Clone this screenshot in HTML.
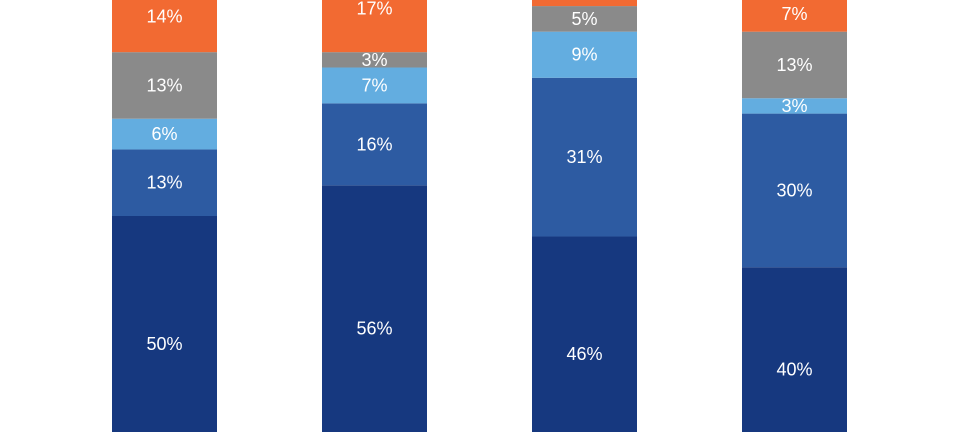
<!DOCTYPE html>
<html><head><meta charset="utf-8"><style>
html,body{margin:0;padding:0;background:#fff;overflow:hidden;width:960px;height:432px}
svg{display:block;overflow:hidden}
svg text{font-family:"Liberation Sans",sans-serif;font-size:18px;fill:#fff;text-anchor:middle;dominant-baseline:central}
</style></head><body>
<svg id="chart" width="960" height="432"></svg>
<script>
const categories = ["A","B","C","D"];
const seriesNames = ["s1","s2","s3","s4","s5"];
const s1 = [50,56,46,40];
const s2 = [13,16,31,30];
const s3 = [6,7,9,3];
const s4 = [13,3,5,13];
const s5 = [14,17,9,7];
const series = [s1,s2,s3,s4,s5];
const colors = ["#16387f","#2d5ba2","#63ade0","#8a8a8a","#f26a32"];
const svg = document.getElementById('chart');
const NS = "http://www.w3.org/2000/svg";
const base = 472, scale = 5.12, H = 432;
const xLeft = 112, step = 210, bw = 105;
function y(v){return base - v*scale;}
function x(i){return xLeft + i*step;}
function clamp(v){return Math.max(0, Math.min(H, v));}
categories.forEach((c,i)=>{
  let cum = 0;
  series.forEach((s,k)=>{
    const v = s[i];
    const top = clamp(y(cum+v)), bot = clamp(y(cum));
    if (bot > top) {
      const r = document.createElementNS(NS,'rect');
      
      
      r.setAttribute('x', x(i));
      r.setAttribute('y', top);
      r.setAttribute('width', bw);
      r.setAttribute('height', bot - top);
      r.setAttribute('fill', colors[k]);
      svg.appendChild(r);
    }
    const ly = (y(cum)+y(cum+v))/2;
    if (ly > 0 && ly < H) {
      const t = document.createElementNS(NS,'text');
      
      
      t.setAttribute('x', x(i)+bw/2);
      t.setAttribute('y', ly);
      t.textContent = v + '%';
      svg.appendChild(t);
    }
    cum += v;
  });
});
</script>
</body></html>
